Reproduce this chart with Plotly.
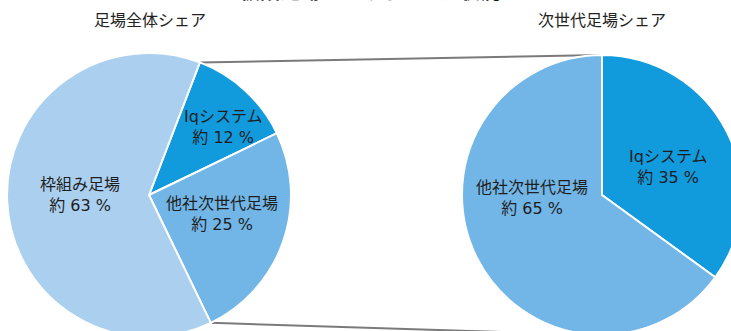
import math
import plotly.graph_objects as go

# ---- data ----
all_labels = ["Iqシステム", "他社次世代足場", "枠組み足場"]
all_values = [12, 25, 63]
next_labels = ["Iqシステム", "他社次世代足場"]
next_values = [35, 65]
colors_all = ["#119ADC", "#72B6E7", "#ABCFEF"]
colors_next = ["#119ADC", "#72B6E7"]
title_text = "仮設足場におけるシェア状況"
sub_left = "足場全体シェア"
sub_right = "次世代足場シェア"

W, H = 745, 340
FONT = "DejaVu Sans, Noto Sans CJK JP, sans-serif"
FONT_JP = "Noto Sans CJK JP, sans-serif"

# pie geometry (pixels, from top-left)
L_C, L_R, L_ROT = (149, 195), 142, 21
R_C, R_R, R_ROT = (602, 195), 140, 0


def px(x):
    return x / W


def py(y):
    return (H - y) / H


def dom(c, r):
    return dict(x=[px(c[0] - r), px(c[0] + r)], y=[py(c[1] + r), py(c[1] - r)])


fig = go.Figure()
fig.add_trace(go.Pie(labels=all_labels, values=all_values, sort=False,
                     direction="clockwise", rotation=L_ROT,
                     marker=dict(colors=colors_all, line=dict(color="white", width=2)),
                     textinfo="none", hoverinfo="skip", showlegend=False,
                     domain=dom(L_C, L_R)))
fig.add_trace(go.Pie(labels=next_labels, values=next_values, sort=False,
                     direction="clockwise", rotation=R_ROT,
                     marker=dict(colors=colors_next, line=dict(color="white", width=2)),
                     textinfo="none", hoverinfo="skip", showlegend=False,
                     domain=dom(R_C, R_R)))

# connector lines from the next-gen share of the left pie to the right pie
a0 = math.radians(L_ROT)
a1 = math.radians(L_ROT + (all_values[0] + all_values[1]) / sum(all_values) * 360)
p_top = (L_C[0] + L_R * math.sin(a0), L_C[1] - L_R * math.cos(a0))
p_bot = (L_C[0] + L_R * math.sin(a1), L_C[1] - L_R * math.cos(a1))
q_top = (R_C[0], R_C[1] - R_R)
q_bot = (R_C[0], R_C[1] + R_R)
for p, q in [(p_top, q_top), (p_bot, q_bot)]:
    fig.add_shape(type="line", xref="paper", yref="paper", layer="below",
                  x0=px(p[0]), y0=py(p[1]), x1=px(q[0]), y1=py(q[1]),
                  line=dict(color="#7a7a7a", width=2))

# slice labels
label_pos = [
    (all_labels[0], all_values[0], 223, 127),
    (all_labels[1], all_values[1], 222, 214),
    (all_labels[2], all_values[2], 80, 195),
    (next_labels[0], next_values[0], 668, 167),
    (next_labels[1], next_values[1], 532, 198),
]
for name, v, x, y in label_pos:
    fig.add_annotation(x=px(x), y=py(y), xref="paper", yref="paper",
                       text=f"{name}<br>約 {v} %", showarrow=False,
                       font=dict(family=FONT, size=16, color="#1e1e1e"),
                       xanchor="center", yanchor="middle", align="center")

# subtitles
for t, x in [(sub_left, L_C[0] + 1), (sub_right, R_C[0])]:
    fig.add_annotation(x=px(x), y=py(18.5), xref="paper", yref="paper",
                       text=t, showarrow=False,
                       font=dict(family=FONT_JP, size=16, color="#222222"),
                       xanchor="center", yanchor="middle")

# title (cut off at the top in the reference)
fig.add_annotation(x=px(370), y=py(-10), xref="paper", yref="paper",
                   text=f"<b>{title_text}</b>", showarrow=False,
                   font=dict(family=FONT_JP, size=20, color="#111111"),
                   xanchor="center", yanchor="middle")

fig.update_layout(width=W, height=H, margin=dict(l=0, r=0, t=0, b=0),
                  paper_bgcolor="white", plot_bgcolor="white")
fig.write_html("out.html")
